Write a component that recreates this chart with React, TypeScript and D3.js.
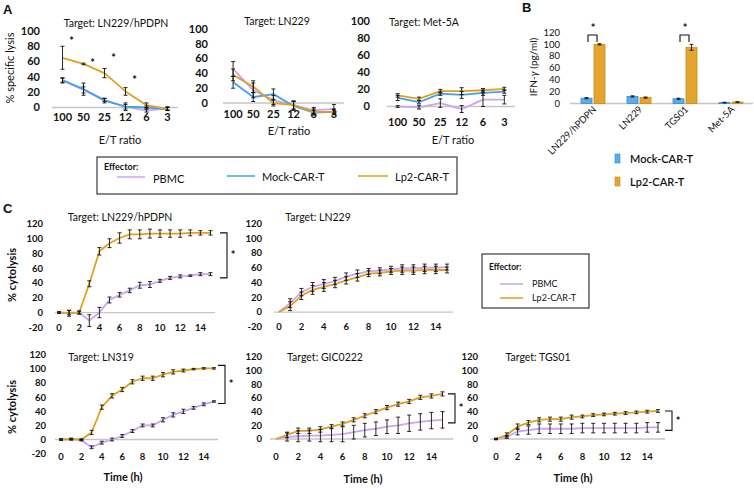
import React from "react";
import * as d3 from "d3";

const FONT = "Lato, 'Noto Sans', sans-serif";
const COL_PBMC = "#C9A6EE";
const COL_MOCK = "#45A0E4";
const COL_LP2 = "#E0A21E";
const ZERO_COL = "#C6C6C6";

// ---------- Panel A data (E/T ratio) ----------
const etRatios = ["100", "50", "25", "12", "6", "3"];
const aTicks = [0, 20, 40, 60, 80, 100];

const a1Pbmc = [35, 23, 10, 1, -4, -1];
const a1PbmcErr = [3, 4, 2, 3, 2, 2];
const a1Mock = [36, 24, 9, 1, 0, -2];
const a1MockErr = [3, 8, 3, 5, 2, 2];
const a1Lp2 = [65, 57, 45, 21, 3, -2];
const a1Lp2Err = [15, 1, 6, 5, 3, 2];
const a1Stars = ["100", "50", "25", "12"];
const a1StarVals = [88, 60, 66, 37];

const a2Pbmc = [46, 17, 4, -3, -10, -8];
const a2PbmcErr = [10, 10, 6, 6, 4, 6];
const a2Mock = [28, 8, 12, -4, -13, -12];
const a2MockErr = [8, 6, 7, 6, 3, 3];
const a2Lp2 = [38, 22, 0, -3, -12, -12];
const a2Lp2Err = [8, 8, 4, 5, 4, 4];

const a3Pbmc = [0, -1, 4, -3, 8, 8];
const a3PbmcErr = [1, 2, 5, 4, 8, 5];
const a3Mock = [10, 5, 15, 13.5, 16, 17.5];
const a3MockErr = [3, 2, 2, 4, 3, 2];
const a3Lp2 = [13, 9, 18, 18, 19, 20.5];
const a3Lp2Err = [2, 2, 2, 4, 2, 2];

// ---------- Panel B data (IFN-gamma) ----------
const bTargets = ["LN229/hPDPN", "LN229", "TGS01", "Met-5A"];
const bMock = [9, 12, 8, 1.5];
const bMockErr = [1, 1, 1, 0.5];
const bLp2 = [100, 10, 95, 2.5];
const bLp2Err = [1, 1, 5, 0.5];
const bTicks = [0, 20, 40, 60, 80, 100, 120];
const bStarTargets = ["LN229/hPDPN", "TGS01"];

// ---------- Panel C data (time course) ----------
const hours = [0, 1, 2, 3, 4, 5, 6, 7, 8, 9, 10, 11, 12, 13, 14, 15];
const hourTicks = [0, 2, 4, 6, 8, 10, 12, 14];
const cTicksNeg = [-20, 0, 20, 40, 60, 80, 100, 120];
const cTicksPos = [0, 20, 40, 60, 80, 100, 120];

const c1Lp2 = [0, 0, 0, 39, 83, 94, 101, 106, 106, 107, 107, 107, 107, 108, 108, 108];
const c1Lp2Err = [1, 3, 2, 4, 5, 6, 7, 6, 6, 6, 5, 5, 5, 4, 3, 3];
const c1Pbmc = [0, -1, 0, -11, 0, 17, 24, 30, 37, 38, 43, 47, 49, 50, 52, 52];
const c1PbmcErr = [1, 4, 2, 8, 7, 4, 3, 3, 4, 4, 2, 2, 2, 1, 2, 2];

const c2Pbmc = [0, 12, 27, 34, 38, 42, 48, 52, 55, 56, 58, 59, 59, 60, 60, 61];
const c2PbmcErr = [0, 6, 5, 6, 6, 5, 5, 5, 4, 4, 4, 5, 5, 5, 5, 4];
const c2Lp2 = [0, 8, 22, 30, 34, 38, 43, 47, 52, 53, 55, 56, 56, 57, 57, 57];
const c2Lp2Err = [0, 6, 5, 6, 6, 5, 5, 5, 4, 4, 4, 5, 5, 5, 5, 4];

const c4Lp2 = [0, 1, 0, 10, 46, 62, 71, 82, 87, 87, 92, 96, 98, 100, 101, 101];
const c4Lp2Err = [1, 1, 1, 3, 3, 3, 3, 3, 3, 3, 3, 3, 2, 1, 1, 1];
const c4Pbmc = [0, 0, -1, -11, -4.5, 0, 5, 12, 20, 20, 28, 35, 40, 45, 50, 54];
const c4PbmcErr = [1, 1, 1, 2, 2, 2, 2, 2, 2, 2, 3, 3, 3, 2, 2, 1];

const c5Lp2 = [0, 6, 12, 12, 14, 18, 22, 28, 34, 40, 46, 51, 55, 61, 63, 66];
const c5Lp2Err = [0, 4, 4, 4, 4, 3, 3, 3, 3, 3, 3, 3, 3, 3, 3, 3];
const c5Pbmc = [0, 3, 4, 5, 5, 6, 7, 10, 13, 15, 18, 20, 23, 25, 27, 28];
const c5PbmcErr = [0, 6, 8, 8, 9, 10, 11, 10, 10, 10, 10, 12, 12, 12, 12, 12];

const c6Lp2 = [0, 6, 18, 24, 28, 29, 29, 32, 33, 35, 36, 37, 38, 39, 40, 41];
const c6Lp2Err = [1, 3, 4, 3, 3, 3, 3, 3, 2, 2, 2, 2, 2, 2, 2, 2];
const c6Pbmc = [0, 3, 11, 13, 15, 15, 15, 15, 16, 16, 16, 16, 16, 16, 17, 17];
const c6PbmcErr = [1, 2, 5, 6, 7, 7, 7, 7, 7, 7, 7, 7, 7, 7, 7, 7];

type Series = { v: number[]; e: number[]; c: string };

function LinePanel(p: {
  xs: number[];
  xTickPos: number[];
  xTickLabels: string[];
  xTickY: number;
  y: d3.ScaleLinear<number, number>;
  yTicks: number[];
  yLabelX: number;
  tickFont: number;
  zero: [number, number];
  series: Series[];
  title: string;
  titleX: number;
  titleY: number;
}) {
  const line = d3
    .line<number>()
    .x((_, i) => p.xs[i])
    .y((v) => p.y(v));
  return (
    <g>
      <text x={p.titleX} y={p.titleY} dy="0.35em" textAnchor="middle" fontSize={10.5}>
        {p.title}
      </text>
      {p.yTicks.map((t) => (
        <text key={"y" + t} x={p.yLabelX} y={p.y(t)} dy="0.35em" textAnchor="end" fontSize={p.tickFont} fontWeight="bold">
          {t}
        </text>
      ))}
      <line x1={p.zero[0]} x2={p.zero[1]} y1={p.y(0)} y2={p.y(0)} stroke={ZERO_COL} strokeWidth={1.3} />
      {p.xTickLabels.map((l, i) => (
        <text key={"x" + i} x={p.xTickPos[i]} y={p.xTickY} dy="0.35em" textAnchor="middle" fontSize={p.tickFont} fontWeight="bold">
          {l}
        </text>
      ))}
      {p.series.map((s, k) => (
        <path key={"l" + k} d={line(s.v) || ""} fill="none" stroke={s.c} strokeWidth={1.8} strokeLinejoin="round" />
      ))}
      {p.series.map((s, k) =>
        s.v.map((v, i) => {
          const e = s.e[i];
          if (!e) return null;
          const x = p.xs[i];
          const y1 = p.y(v - e);
          const y2 = p.y(v + e);
          return (
            <g key={"e" + k + "_" + i} stroke="#111" strokeWidth={0.9}>
              <line x1={x} x2={x} y1={y1} y2={y2} />
              <line x1={x - 2} x2={x + 2} y1={y1} y2={y1} />
              <line x1={x - 2} x2={x + 2} y1={y2} y2={y2} />
            </g>
          );
        })
      )}
    </g>
  );
}

function Bracket({ x, yTop, yBot }: { x: number; yTop: number; yBot: number }) {
  return (
    <g>
      <path d={`M${x - 7},${yTop} H${x} V${yBot} H${x - 7}`} fill="none" stroke="#111" strokeWidth={1.1} />
      <text x={x + 6} y={(yTop + yBot) / 2 + 4} textAnchor="middle" fontSize={11} fontWeight="bold">
        *
      </text>
    </g>
  );
}

export default function App() {
  // ----- Panel A scales -----
  const a1x = d3.scalePoint<string>().domain(etRatios).range([52, 178]).padding(0.5);
  const a1y = d3.scaleLinear().domain([0, 100]).range([107.5, 31]);
  const a2x = d3.scalePoint<string>().domain(etRatios).range([223, 344]).padding(0.5);
  const a2y = d3.scaleLinear().domain([0, 100]).range([103, 29]);
  const a3x = d3.scalePoint<string>().domain(etRatios).range([387, 515]).padding(0.5);
  const a3y = d3.scaleLinear().domain([0, 100]).range([106.5, 21]);
  const a1xs = etRatios.map((c) => a1x(c) as number);
  const a2xs = etRatios.map((c) => a2x(c) as number);
  const a3xs = etRatios.map((c) => a3x(c) as number);

  // ----- Panel B scales -----
  const bx = d3.scaleBand<string>().domain(bTargets).range([570, 754]);
  const by = d3.scaleLinear().domain([0, 120]).range([103.5, 32.5]);
  const bc = (t: string) => (bx(t) as number) + bx.bandwidth() / 2;

  // ----- Panel C scales -----
  const c1x = d3.scaleLinear().domain([0, 15]).range([59, 210.5]);
  const c1y = d3.scaleLinear().domain([-20, 120]).range([327.3, 224]);
  const c2x = d3.scaleLinear().domain([0, 15]).range([279, 447]);
  const c2y = d3.scaleLinear().domain([-20, 120]).range([326.8, 223.5]);
  const c4x = d3.scaleLinear().domain([0, 15]).range([61, 214]);
  const c4y = d3.scaleLinear().domain([-20, 120]).range([453.6, 355]);
  const c5x = d3.scaleLinear().domain([0, 15]).range([276, 442.5]);
  const c5y = d3.scaleLinear().domain([0, 120]).range([439, 357]);
  const c6x = d3.scaleLinear().domain([0, 15]).range([496, 658]);
  const c6y = d3.scaleLinear().domain([0, 120]).range([439, 357]);

  const last = (a: number[]) => a[a.length - 1];

  return (
    <svg
      width={754}
      height={488}
      viewBox="0 0 754 488"
      style={{ position: "absolute", left: 0, top: 0, background: "#fff" }}
      fontFamily={FONT}
      fill="#111"
    >
      <rect width={754} height={488} fill="#fff" />
      {/* Panel letters */}
      <text x={3} y={14} fontSize={13} fontWeight="bold" fontFamily="'Liberation Sans', Arial, sans-serif">A</text>
      <text x={522} y={12} fontSize={13} fontWeight="bold" fontFamily="'Liberation Sans', Arial, sans-serif">B</text>
      <text x={3} y={213} fontSize={13} fontWeight="bold" fontFamily="'Liberation Sans', Arial, sans-serif">C</text>

      {/* ===== Panel A ===== */}
      <text transform="translate(10,68) rotate(-90)" textAnchor="middle" dy="0.35em" fontSize={11}>
        % specific lysis
      </text>
      <LinePanel
        xs={a1xs}
        xTickPos={a1xs}
        xTickLabels={etRatios}
        xTickY={117}
        y={a1y}
        yTicks={aTicks}
        yLabelX={40}
        tickFont={11}
        zero={[52, 178]}
        series={[
          { v: a1Pbmc, e: a1PbmcErr, c: COL_PBMC },
          { v: a1Mock, e: a1MockErr, c: COL_MOCK },
          { v: a1Lp2, e: a1Lp2Err, c: COL_LP2 },
        ]}
        title="Target: LN229/hPDPN"
        titleX={116}
        titleY={23}
      />
      {a1Stars.map((c, i) => (
        <text key={"st" + i} x={(a1x(c) as number) + 9} y={a1y(a1StarVals[i]) + 5} textAnchor="middle" fontSize={11} fontWeight="bold">
          *
        </text>
      ))}
      <text x={120} y={140} dy="0.35em" textAnchor="middle" fontSize={11}>E/T ratio</text>

      <LinePanel
        xs={a2xs}
        xTickPos={a2xs}
        xTickLabels={etRatios}
        xTickY={114}
        y={a2y}
        yTicks={aTicks}
        yLabelX={208}
        tickFont={11}
        zero={[223, 344]}
        series={[
          { v: a2Pbmc, e: a2PbmcErr, c: COL_PBMC },
          { v: a2Mock, e: a2MockErr, c: COL_MOCK },
          { v: a2Lp2, e: a2Lp2Err, c: COL_LP2 },
        ]}
        title="Target: LN229"
        titleX={277}
        titleY={21}
      />
      <text x={289} y={131} dy="0.35em" textAnchor="middle" fontSize={11}>E/T ratio</text>

      <LinePanel
        xs={a3xs}
        xTickPos={a3xs}
        xTickLabels={etRatios}
        xTickY={122}
        y={a3y}
        yTicks={aTicks}
        yLabelX={370}
        tickFont={11}
        zero={[387, 515]}
        series={[
          { v: a3Pbmc, e: a3PbmcErr, c: COL_PBMC },
          { v: a3Mock, e: a3MockErr, c: COL_MOCK },
          { v: a3Lp2, e: a3Lp2Err, c: COL_LP2 },
        ]}
        title="Target: Met-5A"
        titleX={424}
        titleY={22}
      />
      <text x={453} y={140} dy="0.35em" textAnchor="middle" fontSize={11}>E/T ratio</text>

      {/* Legend A */}
      <rect x={97} y={157} width={360} height={37} fill="none" stroke="#111" strokeWidth={1} />
      <text x={104} y={167} dy="0.35em" fontSize={9} fontWeight="bold">Effector:</text>
      <line x1={117} x2={145} y1={177} y2={177} stroke={COL_PBMC} strokeWidth={1.5} />
      <text x={153} y={179} dy="0.35em" fontSize={11}>PBMC</text>
      <line x1={227} x2={255} y1={176} y2={176} stroke={COL_MOCK} strokeWidth={1.5} />
      <text x={262} y={177} dy="0.35em" fontSize={11}>Mock-CAR-T</text>
      <line x1={358} x2={388} y1={176} y2={176} stroke={COL_LP2} strokeWidth={1.5} />
      <text x={395} y={177} dy="0.35em" fontSize={11}>Lp2-CAR-T</text>

      {/* ===== Panel B ===== */}
      <text transform="translate(533,67) rotate(-90)" textAnchor="middle" dy="0.35em" fontSize={10}>
        IFN-<tspan fontStyle="italic">γ</tspan> (pg/ml)
      </text>
      {bTicks.map((t) => (
        <text key={"by" + t} x={560} y={by(t)} dy="0.35em" textAnchor="end" fontSize={9.5}>
          {t}
        </text>
      ))}
      <line x1={570} x2={753} y1={by(0)} y2={by(0)} stroke={ZERO_COL} strokeWidth={1.3} />
      {bTargets.map((t, i) => {
        const c = bc(t);
        const w = 11;
        return (
          <g key={"bb" + i}>
            <rect x={c - 12} y={by(bMock[i])} width={w} height={by(0) - by(bMock[i])} fill="#5AAEEA" stroke="#3B8BD0" strokeWidth={0.8} />
            <rect x={c + 1} y={by(bLp2[i])} width={w} height={by(0) - by(bLp2[i])} fill="#E3A52F" stroke="#C88C16" strokeWidth={0.8} />
            {[
              [c - 6.5, bMock[i], bMockErr[i]],
              [c + 6.5, bLp2[i], bLp2Err[i]],
            ].map(([x, v, e], k) => (
              <g key={k} stroke="#111" strokeWidth={0.9}>
                <line x1={x} x2={x} y1={by(v - e)} y2={by(v + e)} />
                <line x1={x - 2} x2={x + 2} y1={by(v + e)} y2={by(v + e)} />
                <line x1={x - 2} x2={x + 2} y1={by(v - e)} y2={by(v - e)} />
              </g>
            ))}
            <text transform={`translate(${c + 4},110) rotate(-45)`} textAnchor="end" fontSize={9.5}>
              {t}
            </text>
          </g>
        );
      })}
      {bStarTargets.map((t, i) => {
        const c = bc(t);
        return (
          <g key={"bs" + i}>
            <path d={`M${c - 5},42 V35 H${c + 4} V42`} fill="none" stroke="#111" strokeWidth={1.1} />
            <text x={c} y={32} textAnchor="middle" fontSize={11} fontWeight="bold">*</text>
          </g>
        );
      })}
      <rect x={615} y={154} width={5} height={9} fill="#5AAEEA" stroke="#3B8BD0" strokeWidth={0.6} />
      <text x={630} y={159} dy="0.35em" fontSize={11} fontWeight="600">Mock-CAR-T</text>
      <rect x={615} y={177} width={5} height={9} fill="#E3A52F" stroke="#C88C16" strokeWidth={0.6} />
      <text x={630} y={182} dy="0.35em" fontSize={11} fontWeight="600">Lp2-CAR-T</text>

      {/* ===== Panel C ===== */}
      <text transform="translate(12,275) rotate(-90)" textAnchor="middle" dy="0.35em" fontSize={11} fontWeight="bold">
        % cytolysis
      </text>
      <LinePanel
        xs={hours.map((h) => c1x(h))}
        xTickPos={hourTicks.map((h) => c1x(h))}
        xTickLabels={hourTicks.map(String)}
        xTickY={328}
        y={c1y}
        yTicks={cTicksNeg}
        yLabelX={43}
        tickFont={9.5}
        zero={[55, 215]}
        series={[
          { v: c1Pbmc, e: c1PbmcErr, c: COL_PBMC },
          { v: c1Lp2, e: c1Lp2Err, c: COL_LP2 },
        ]}
        title="Target: LN229/hPDPN"
        titleX={120}
        titleY={217}
      />
      <Bracket x={227} yTop={c1y(last(c1Lp2))} yBot={c1y(last(c1Pbmc) - 5)} />

      <LinePanel
        xs={hours.map((h) => c2x(h))}
        xTickPos={hourTicks.map((h) => c2x(h))}
        xTickLabels={hourTicks.map(String)}
        xTickY={327}
        y={c2y}
        yTicks={cTicksNeg}
        yLabelX={262}
        tickFont={9.5}
        zero={[274, 453]}
        series={[
          { v: c2Pbmc, e: c2PbmcErr, c: COL_PBMC },
          { v: c2Lp2, e: c2Lp2Err, c: COL_LP2 },
        ]}
        title="Target: LN229"
        titleX={318}
        titleY={217}
      />

      {/* Legend C */}
      <rect x={482} y={254} width={107} height={54} fill="none" stroke="#111" strokeWidth={1} />
      <text x={489} y={267} dy="0.35em" fontSize={8.5} fontWeight="bold">Effector:</text>
      <line x1={500} x2={523} y1={284} y2={284} stroke={COL_PBMC} strokeWidth={1.5} />
      <text x={532} y={284} dy="0.35em" fontSize={9}>PBMC</text>
      <line x1={500} x2={523} y1={298} y2={298} stroke={COL_LP2} strokeWidth={1.5} />
      <text x={532} y={298} dy="0.35em" fontSize={9}>Lp2-CAR-T</text>

      <text transform="translate(12,407) rotate(-90)" textAnchor="middle" dy="0.35em" fontSize={11} fontWeight="bold">
        % cytolysis
      </text>
      <LinePanel
        xs={hours.map((h) => c4x(h))}
        xTickPos={hourTicks.map((h) => c4x(h))}
        xTickLabels={hourTicks.map(String)}
        xTickY={457}
        y={c4y}
        yTicks={cTicksNeg}
        yLabelX={46}
        tickFont={9.5}
        zero={[55, 218]}
        series={[
          { v: c4Pbmc, e: c4PbmcErr, c: COL_PBMC },
          { v: c4Lp2, e: c4Lp2Err, c: COL_LP2 },
        ]}
        title="Target: LN319"
        titleX={101}
        titleY={357}
      />
      <Bracket x={225} yTop={c4y(last(c4Lp2)) - 3} yBot={c4y(last(c4Pbmc)) + 2} />
      <text x={123} y={477} dy="0.35em" textAnchor="middle" fontSize={11} fontWeight="bold">Time (h)</text>

      <LinePanel
        xs={hours.map((h) => c5x(h))}
        xTickPos={hourTicks.map((h) => c5x(h))}
        xTickLabels={hourTicks.map(String)}
        xTickY={457}
        y={c5y}
        yTicks={cTicksPos}
        yLabelX={262}
        tickFont={9.5}
        zero={[270, 453]}
        series={[
          { v: c5Pbmc, e: c5PbmcErr, c: COL_PBMC },
          { v: c5Lp2, e: c5Lp2Err, c: COL_LP2 },
        ]}
        title="Target: GIC0222"
        titleX={325}
        titleY={357}
      />
      <Bracket x={455} yTop={c5y(last(c5Lp2))} yBot={c5y(last(c5Pbmc)) + 3} />
      <text x={363} y={479} dy="0.35em" textAnchor="middle" fontSize={11} fontWeight="bold">Time (h)</text>

      <LinePanel
        xs={hours.map((h) => c6x(h))}
        xTickPos={hourTicks.map((h) => c6x(h))}
        xTickLabels={hourTicks.map(String)}
        xTickY={457}
        y={c6y}
        yTicks={cTicksPos}
        yLabelX={478}
        tickFont={9.5}
        zero={[490, 665]}
        series={[
          { v: c6Pbmc, e: c6PbmcErr, c: COL_PBMC },
          { v: c6Lp2, e: c6Lp2Err, c: COL_LP2 },
        ]}
        title="Target: TGS01"
        titleX={538}
        titleY={357}
      />
      <Bracket x={672} yTop={c6y(last(c6Lp2))} yBot={c6y(last(c6Pbmc)) + 3} />
      <text x={573} y={478} dy="0.35em" textAnchor="middle" fontSize={11} fontWeight="bold">Time (h)</text>
    </svg>
  );
}
